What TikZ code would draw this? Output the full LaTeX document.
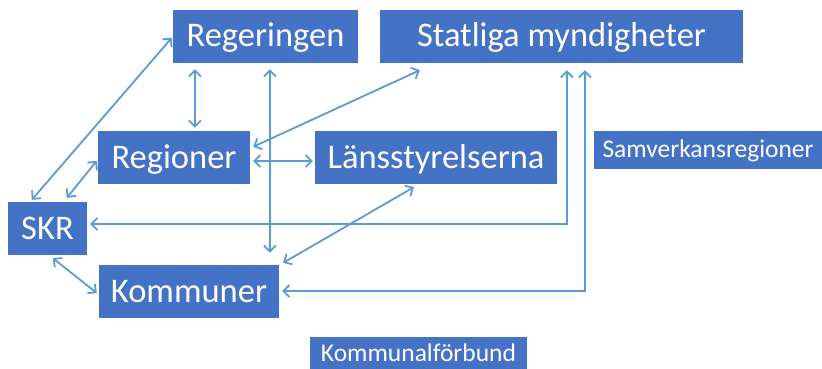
\documentclass[tikz,border=0pt]{standalone}
\usepackage{fontspec}
\setmainfont{Carlito}
\usepackage{xcolor}
\usetikzlibrary{arrows.meta,calc}
\definecolor{boxblue}{HTML}{4472C4}
\definecolor{linkblue}{HTML}{5B9BD5}
\tikzset{
	box/.style={fill=boxblue, text=white, inner sep=0pt, text height=21pt, text depth=0pt, font=\fontsize{34.5}{35}\selectfont},
	small box/.style={box, text height=15.5pt, font=\fontsize{25.5}{26}\selectfont},
	link/.style={draw=linkblue, line width=1.8pt, {Straight Barb[length=6pt,width=12pt]}-{Straight Barb[length=6pt,width=12pt]}}
}

\begin{document}
\begin{tikzpicture}[x=1pt, y=-1pt]
	\useasboundingbox (0,0) rectangle (822,369);
%
	\node[box, minimum width=185pt, minimum height=53pt] (reg) at (265.5,36.5) {Regeringen};
	\node[box, minimum width=363pt, minimum height=53pt] (stat) at (561.5,36.5) {Statliga myndigheter};
	\node[box, minimum width=152pt, minimum height=53pt] (regi) at (174,157.5) {Regioner};
	\node[box, minimum width=242pt, minimum height=53pt] (lans) at (436,157.5) {Länsstyrelserna};
	\node[small box, minimum width=228pt, minimum height=38pt] (sam) at (708,150) {Samverkansregioner};
	\node[box, minimum width=79pt, minimum height=53pt] (skr) at (47.5,228.5) {SKR};
	\node[box, minimum width=180pt, minimum height=53pt] (kom) at (189,291.5) {Kommuner};
	\node[small box, minimum width=217pt, minimum height=34pt] (kf) at (418.5,354) {Kommunalförbund};
%
	\draw[link] ($(skr.north west)+(24,-2)$) -- ($(reg.north west)+(-1,28)$);
	\draw[link] ($(skr.north west)+(59,-4)$) -- ($(regi.north west)+(-1,30)$);
	\draw[link] ($(reg.south west)+(22,6)$) -- ($(regi.north west)+(97,-3)$);
	\draw[link] ($(reg.south west)+(97,6)$) -- ($(kom.north west)+(171,-12)$);
	\draw[link] ($(regi.north east)+(3,16)$) -- ($(stat.south west)+(40,7)$);
	\draw[link] ($(regi.east)+(3,3.5)$) -- ($(lans.west)+(-2,3.5)$);
	\draw[link] ($(kom.north east)+(4,-2)$) -- ($(lans.south west)+(99,3)$);
	\draw[link] ($(skr.east)+(3,-4.5)$) -| ($(stat.south west)+(187,7)$);
	\draw[link] ($(kom.east)+(3,-0.5)$) -| ($(stat.south west)+(205,7)$);
	\draw[link] ($(skr.south west)+(45,3)$) -- ($(kom.west)+(-2,1.5)$);
\end{tikzpicture}
\end{document}
